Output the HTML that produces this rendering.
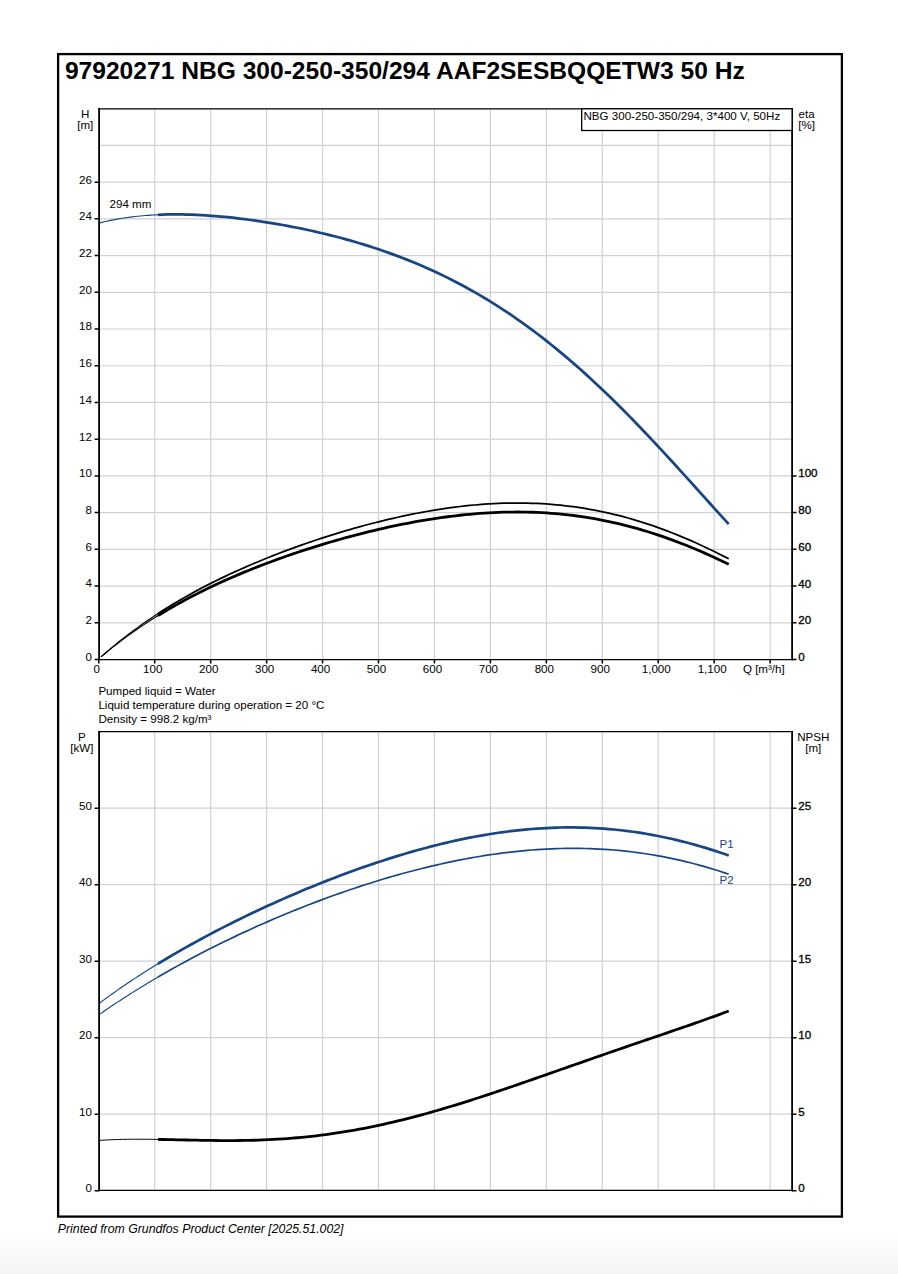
<!DOCTYPE html>
<html><head><meta charset="utf-8"><title>NBG 300-250-350/294</title>
<style>
html,body{margin:0;padding:0;background:#fff;}
body{width:898px;height:1274px;position:relative;overflow:hidden;font-family:"Liberation Sans",sans-serif;}
svg text{font-family:"Liberation Sans",sans-serif;}
</style></head><body>
<svg width="898" height="1274" viewBox="0 0 898 1274" style="position:absolute;left:0;top:0">
<defs><linearGradient id="bg" x1="0" y1="0" x2="0" y2="1"><stop offset="0" stop-color="#fff"/><stop offset="1" stop-color="#f3f3f3"/></linearGradient></defs>
<rect x="0" y="1234" width="898" height="40" fill="url(#bg)"/>
<rect x="58.1" y="54.1" width="783.8" height="1162.5" fill="none" stroke="#000" stroke-width="2.3"/>
<path d="M154.72,108.75 V659.50 M210.67,108.75 V659.50 M266.62,108.75 V659.50 M322.56,108.75 V659.50 M378.50,108.75 V659.50 M434.45,108.75 V659.50 M490.39,108.75 V659.50 M546.34,108.75 V659.50 M602.28,108.75 V659.50 M658.23,108.75 V659.50 M714.17,108.75 V659.50 M770.12,108.75 V659.50 M99.10,622.78 H792.10 M99.10,586.06 H792.10 M99.10,549.34 H792.10 M99.10,512.62 H792.10 M99.10,475.90 H792.10 M99.10,439.18 H792.10 M99.10,402.46 H792.10 M99.10,365.74 H792.10 M99.10,329.02 H792.10 M99.10,292.30 H792.10 M99.10,255.58 H792.10 M99.10,218.86 H792.10 M99.10,182.14 H792.10 M99.10,145.42 H792.10" stroke="#cfd1d3" stroke-width="1.2" fill="none"/>
<path d="M154.72,731.70 V1190.40 M210.67,731.70 V1190.40 M266.62,731.70 V1190.40 M322.56,731.70 V1190.40 M378.50,731.70 V1190.40 M434.45,731.70 V1190.40 M490.39,731.70 V1190.40 M546.34,731.70 V1190.40 M602.28,731.70 V1190.40 M658.23,731.70 V1190.40 M714.17,731.70 V1190.40 M770.12,731.70 V1190.40 M99.10,1114.20 H792.10 M99.10,1037.70 H792.10 M99.10,961.20 H792.10 M99.10,884.70 H792.10 M99.10,808.20 H792.10" stroke="#cfd1d3" stroke-width="1.2" fill="none"/>
<g clip-path="none">
<path d="M99.12,223.08 L101.70,222.43 L104.28,221.80 L106.87,221.21 L109.45,220.65 L112.04,220.11 L114.62,219.61 L117.21,219.13 L119.79,218.68 L122.38,218.25 L124.96,217.85 L127.54,217.48 L130.13,217.13 L132.71,216.81 L135.30,216.50 L137.88,216.22 L140.47,215.97 L143.05,215.73 L145.64,215.51 L148.22,215.32 L150.80,215.15 L153.39,214.99 L155.97,214.86 L158.56,214.74" stroke="#184683" stroke-width="1.15" fill="none"/>
<path d="M158.00,214.76 L162.79,214.59 L167.59,214.47 L172.39,214.41 L177.18,214.41 L181.98,214.46 L186.77,214.56 L191.57,214.71 L196.37,214.91 L201.16,215.15 L205.96,215.43 L210.75,215.76 L215.55,216.13 L220.35,216.53 L225.14,216.98 L229.94,217.46 L234.73,217.98 L239.53,218.53 L244.33,219.12 L249.12,219.74 L253.92,220.39 L258.71,221.08 L263.51,221.80 L268.31,222.55 L273.10,223.33 L277.90,224.15 L282.69,225.00 L287.49,225.88 L292.29,226.79 L297.08,227.74 L301.88,228.72 L306.67,229.73 L311.47,230.78 L316.27,231.85 L321.06,232.97 L325.86,234.12 L330.65,235.30 L335.45,236.53 L340.25,237.79 L345.04,239.09 L349.84,240.42 L354.63,241.80 L359.43,243.22 L364.23,244.68 L369.02,246.18 L373.82,247.73 L378.61,249.32 L383.41,250.95 L388.21,252.64 L393.00,254.37 L397.80,256.15 L402.59,257.98 L407.39,259.86 L412.19,261.79 L416.98,263.78 L421.78,265.82 L426.57,267.92 L431.37,270.07 L436.17,272.28 L440.96,274.55 L445.76,276.87 L450.55,279.26 L455.35,281.71 L460.15,284.22 L464.94,286.80 L469.74,289.44 L474.53,292.14 L479.33,294.91 L484.13,297.75 L488.92,300.65 L493.72,303.63 L498.51,306.67 L503.31,309.78 L508.11,312.95 L512.90,316.20 L517.70,319.52 L522.49,322.91 L527.29,326.37 L532.09,329.90 L536.88,333.50 L541.68,337.18 L546.47,340.92 L551.27,344.73 L556.07,348.62 L560.86,352.57 L565.66,356.60 L570.45,360.69 L575.25,364.86 L580.04,369.09 L584.84,373.38 L589.64,377.75 L594.43,382.18 L599.23,386.67 L604.02,391.22 L608.82,395.84 L613.62,400.51 L618.41,405.25 L623.21,410.04 L628.00,414.88 L632.80,419.78 L637.60,424.72 L642.39,429.72 L647.19,434.76 L651.98,439.84 L656.78,444.96 L661.58,450.12 L666.37,455.31 L671.17,460.54 L675.96,465.79 L680.76,471.06 L685.56,476.35 L690.35,481.66 L695.15,486.99 L699.94,492.32 L704.74,497.65 L709.54,502.98 L714.33,508.31 L719.13,513.62 L723.92,518.92 L728.72,524.20" stroke="#184683" stroke-width="2.75" fill="none"/>
<path d="M101.02,656.88 L103.52,654.67 L106.02,652.50 L108.52,650.35 L111.02,648.24 L113.53,646.15 L116.03,644.10 L118.53,642.07 L121.03,640.07 L123.53,638.10 L126.03,636.16 L128.54,634.25 L131.04,632.36 L133.54,630.50 L136.04,628.66 L138.54,626.85 L141.05,625.06 L143.55,623.30 L146.05,621.56 L148.55,619.84 L151.05,618.15 L153.55,616.48 L156.06,614.83 L158.56,613.20" stroke="#000" stroke-width="1.15" fill="none"/>
<path d="M158.00,613.56 L162.79,610.48 L167.59,607.48 L172.39,604.55 L177.18,601.69 L181.98,598.90 L186.77,596.17 L191.57,593.50 L196.37,590.89 L201.16,588.33 L205.96,585.83 L210.75,583.38 L215.55,580.99 L220.35,578.64 L225.14,576.34 L229.94,574.08 L234.73,571.87 L239.53,569.71 L244.33,567.58 L249.12,565.49 L253.92,563.44 L258.71,561.44 L263.51,559.46 L268.31,557.53 L273.10,555.62 L277.90,553.76 L282.69,551.92 L287.49,550.12 L292.29,548.35 L297.08,546.62 L301.88,544.91 L306.67,543.24 L311.47,541.60 L316.27,539.98 L321.06,538.40 L325.86,536.85 L330.65,535.33 L335.45,533.84 L340.25,532.37 L345.04,530.94 L349.84,529.54 L354.63,528.17 L359.43,526.83 L364.23,525.52 L369.02,524.24 L373.82,522.99 L378.61,521.78 L383.41,520.60 L388.21,519.45 L393.00,518.33 L397.80,517.25 L402.59,516.20 L407.39,515.18 L412.19,514.20 L416.98,513.26 L421.78,512.35 L426.57,511.49 L431.37,510.65 L436.17,509.86 L440.96,509.11 L445.76,508.40 L450.55,507.72 L455.35,507.09 L460.15,506.50 L464.94,505.96 L469.74,505.46 L474.53,505.00 L479.33,504.59 L484.13,504.22 L488.92,503.90 L493.72,503.63 L498.51,503.41 L503.31,503.23 L508.11,503.11 L512.90,503.03 L517.70,503.01 L522.49,503.04 L527.29,503.12 L532.09,503.26 L536.88,503.45 L541.68,503.69 L546.47,503.99 L551.27,504.35 L556.07,504.76 L560.86,505.23 L565.66,505.76 L570.45,506.34 L575.25,506.99 L580.04,507.69 L584.84,508.45 L589.64,509.27 L594.43,510.15 L599.23,511.10 L604.02,512.10 L608.82,513.16 L613.62,514.28 L618.41,515.47 L623.21,516.71 L628.00,518.02 L632.80,519.38 L637.60,520.81 L642.39,522.30 L647.19,523.85 L651.98,525.45 L656.78,527.12 L661.58,528.85 L666.37,530.63 L671.17,532.47 L675.96,534.38 L680.76,536.33 L685.56,538.35 L690.35,540.42 L695.15,542.54 L699.94,544.72 L704.74,546.94 L709.54,549.22 L714.33,551.55 L719.13,553.93 L723.92,556.36 L728.72,558.83" stroke="#000" stroke-width="1.75" fill="none"/>
<path d="M101.02,656.90 L103.52,654.79 L106.02,652.71 L108.52,650.66 L111.02,648.64 L113.53,646.66 L116.03,644.70 L118.53,642.76 L121.03,640.86 L123.53,638.98 L126.03,637.13 L128.54,635.31 L131.04,633.51 L133.54,631.74 L136.04,629.99 L138.54,628.26 L141.05,626.56 L143.55,624.89 L146.05,623.23 L148.55,621.60 L151.05,619.99 L153.55,618.40 L156.06,616.83 L158.56,615.28" stroke="#000" stroke-width="1.15" fill="none"/>
<path d="M158.00,615.63 L162.79,612.71 L167.59,609.86 L172.39,607.08 L177.18,604.37 L181.98,601.72 L186.77,599.13 L191.57,596.60 L196.37,594.13 L201.16,591.72 L205.96,589.36 L210.75,587.04 L215.55,584.78 L220.35,582.57 L225.14,580.40 L229.94,578.28 L234.73,576.19 L239.53,574.15 L244.33,572.15 L249.12,570.19 L253.92,568.27 L258.71,566.39 L263.51,564.53 L268.31,562.72 L273.10,560.94 L277.90,559.19 L282.69,557.47 L287.49,555.79 L292.29,554.14 L297.08,552.51 L301.88,550.92 L306.67,549.36 L311.47,547.83 L316.27,546.32 L321.06,544.85 L325.86,543.40 L330.65,541.98 L335.45,540.59 L340.25,539.23 L345.04,537.90 L349.84,536.60 L354.63,535.32 L359.43,534.08 L364.23,532.86 L369.02,531.67 L373.82,530.52 L378.61,529.39 L383.41,528.29 L388.21,527.22 L393.00,526.19 L397.80,525.18 L402.59,524.21 L407.39,523.27 L412.19,522.36 L416.98,521.49 L421.78,520.65 L426.57,519.85 L431.37,519.08 L436.17,518.34 L440.96,517.65 L445.76,516.99 L450.55,516.36 L455.35,515.78 L460.15,515.24 L464.94,514.73 L469.74,514.27 L474.53,513.85 L479.33,513.47 L484.13,513.13 L488.92,512.84 L493.72,512.59 L498.51,512.38 L503.31,512.22 L508.11,512.11 L512.90,512.04 L517.70,512.02 L522.49,512.05 L527.29,512.13 L532.09,512.26 L536.88,512.44 L541.68,512.67 L546.47,512.95 L551.27,513.28 L556.07,513.67 L560.86,514.11 L565.66,514.60 L570.45,515.15 L575.25,515.75 L580.04,516.40 L584.84,517.12 L589.64,517.88 L594.43,518.70 L599.23,519.58 L604.02,520.52 L608.82,521.51 L613.62,522.56 L618.41,523.67 L623.21,524.83 L628.00,526.05 L632.80,527.33 L637.60,528.66 L642.39,530.05 L647.19,531.50 L651.98,533.00 L656.78,534.56 L661.58,536.18 L666.37,537.85 L671.17,539.57 L675.96,541.35 L680.76,543.19 L685.56,545.07 L690.35,547.01 L695.15,549.00 L699.94,551.05 L704.74,553.14 L709.54,555.28 L714.33,557.47 L719.13,559.70 L723.92,561.98 L728.72,564.31" stroke="#000" stroke-width="2.8" fill="none"/>
<path d="M99.12,1003.44 L101.70,1001.52 L104.28,999.62 L106.87,997.74 L109.45,995.88 L112.04,994.03 L114.62,992.20 L117.21,990.38 L119.79,988.59 L122.38,986.81 L124.96,985.04 L127.54,983.29 L130.13,981.55 L132.71,979.83 L135.30,978.13 L137.88,976.44 L140.47,974.76 L143.05,973.10 L145.64,971.45 L148.22,969.82 L150.80,968.19 L153.39,966.59 L155.97,964.99 L158.56,963.41" stroke="#184683" stroke-width="1.15" fill="none"/>
<path d="M158.00,963.75 L162.79,960.84 L167.59,957.97 L172.39,955.14 L177.18,952.35 L181.98,949.60 L186.77,946.88 L191.57,944.20 L196.37,941.56 L201.16,938.95 L205.96,936.37 L210.75,933.83 L215.55,931.31 L220.35,928.83 L225.14,926.38 L229.94,923.95 L234.73,921.56 L239.53,919.20 L244.33,916.86 L249.12,914.55 L253.92,912.26 L258.71,910.01 L263.51,907.78 L268.31,905.57 L273.10,903.40 L277.90,901.24 L282.69,899.12 L287.49,897.02 L292.29,894.94 L297.08,892.89 L301.88,890.86 L306.67,888.86 L311.47,886.89 L316.27,884.94 L321.06,883.02 L325.86,881.12 L330.65,879.25 L335.45,877.40 L340.25,875.58 L345.04,873.79 L349.84,872.02 L354.63,870.28 L359.43,868.57 L364.23,866.88 L369.02,865.22 L373.82,863.60 L378.61,862.00 L383.41,860.43 L388.21,858.88 L393.00,857.37 L397.80,855.89 L402.59,854.44 L407.39,853.03 L412.19,851.64 L416.98,850.29 L421.78,848.96 L426.57,847.68 L431.37,846.42 L436.17,845.21 L440.96,844.02 L445.76,842.87 L450.55,841.76 L455.35,840.69 L460.15,839.65 L464.94,838.65 L469.74,837.69 L474.53,836.77 L479.33,835.89 L484.13,835.05 L488.92,834.25 L493.72,833.49 L498.51,832.77 L503.31,832.10 L508.11,831.47 L512.90,830.88 L517.70,830.34 L522.49,829.84 L527.29,829.39 L532.09,828.98 L536.88,828.62 L541.68,828.30 L546.47,828.04 L551.27,827.82 L556.07,827.65 L560.86,827.52 L565.66,827.45 L570.45,827.43 L575.25,827.45 L580.04,827.53 L584.84,827.65 L589.64,827.83 L594.43,828.06 L599.23,828.34 L604.02,828.67 L608.82,829.05 L613.62,829.49 L618.41,829.97 L623.21,830.51 L628.00,831.10 L632.80,831.75 L637.60,832.45 L642.39,833.19 L647.19,834.00 L651.98,834.85 L656.78,835.76 L661.58,836.72 L666.37,837.73 L671.17,838.79 L675.96,839.91 L680.76,841.07 L685.56,842.29 L690.35,843.56 L695.15,844.88 L699.94,846.24 L704.74,847.66 L709.54,849.13 L714.33,850.64 L719.13,852.21 L723.92,853.82 L728.72,855.47" stroke="#184683" stroke-width="2.7" fill="none"/>
<path d="M99.12,1014.66 L101.70,1012.86 L104.28,1011.07 L106.87,1009.30 L109.45,1007.55 L112.04,1005.81 L114.62,1004.08 L117.21,1002.37 L119.79,1000.67 L122.38,998.99 L124.96,997.32 L127.54,995.66 L130.13,994.01 L132.71,992.38 L135.30,990.76 L137.88,989.15 L140.47,987.55 L143.05,985.97 L145.64,984.40 L148.22,982.84 L150.80,981.29 L153.39,979.76 L155.97,978.23 L158.56,976.72" stroke="#184683" stroke-width="1.15" fill="none"/>
<path d="M158.00,977.04 L162.79,974.26 L167.59,971.51 L172.39,968.80 L177.18,966.13 L181.98,963.49 L186.77,960.89 L191.57,958.32 L196.37,955.78 L201.16,953.28 L205.96,950.80 L210.75,948.36 L215.55,945.95 L220.35,943.58 L225.14,941.23 L229.94,938.91 L234.73,936.62 L239.53,934.35 L244.33,932.12 L249.12,929.92 L253.92,927.74 L258.71,925.59 L263.51,923.47 L268.31,921.37 L273.10,919.30 L277.90,917.26 L282.69,915.25 L287.49,913.26 L292.29,911.30 L297.08,909.36 L301.88,907.45 L306.67,905.57 L311.47,903.71 L316.27,901.88 L321.06,900.08 L325.86,898.30 L330.65,896.55 L335.45,894.82 L340.25,893.12 L345.04,891.45 L349.84,889.81 L354.63,888.19 L359.43,886.60 L364.23,885.04 L369.02,883.50 L373.82,881.99 L378.61,880.51 L383.41,879.06 L388.21,877.64 L393.00,876.24 L397.80,874.88 L402.59,873.54 L407.39,872.24 L412.19,870.96 L416.98,869.72 L421.78,868.50 L426.57,867.32 L431.37,866.17 L436.17,865.05 L440.96,863.96 L445.76,862.90 L450.55,861.88 L455.35,860.89 L460.15,859.94 L464.94,859.02 L469.74,858.13 L474.53,857.28 L479.33,856.47 L484.13,855.69 L488.92,854.95 L493.72,854.24 L498.51,853.58 L503.31,852.95 L508.11,852.36 L512.90,851.80 L517.70,851.29 L522.49,850.82 L527.29,850.38 L532.09,849.99 L536.88,849.64 L541.68,849.33 L546.47,849.07 L551.27,848.84 L556.07,848.66 L560.86,848.52 L565.66,848.43 L570.45,848.38 L575.25,848.37 L580.04,848.41 L584.84,848.50 L589.64,848.63 L594.43,848.81 L599.23,849.04 L604.02,849.31 L608.82,849.64 L613.62,850.01 L618.41,850.42 L623.21,850.89 L628.00,851.41 L632.80,851.98 L637.60,852.59 L642.39,853.26 L647.19,853.98 L651.98,854.75 L656.78,855.57 L661.58,856.44 L666.37,857.37 L671.17,858.34 L675.96,859.37 L680.76,860.45 L685.56,861.59 L690.35,862.78 L695.15,864.02 L699.94,865.32 L704.74,866.67 L709.54,868.07 L714.33,869.53 L719.13,871.04 L723.92,872.60 L728.72,874.22" stroke="#184683" stroke-width="1.7" fill="none"/>
<path d="M99.12,1140.43 L101.70,1140.26 L104.28,1140.10 L106.87,1139.95 L109.45,1139.83 L112.04,1139.71 L114.62,1139.61 L117.21,1139.53 L119.79,1139.45 L122.38,1139.39 L124.96,1139.34 L127.54,1139.29 L130.13,1139.26 L132.71,1139.24 L135.30,1139.23 L137.88,1139.22 L140.47,1139.23 L143.05,1139.24 L145.64,1139.25 L148.22,1139.27 L150.80,1139.30 L153.39,1139.34 L155.97,1139.37 L158.56,1139.42" stroke="#000" stroke-width="1.0" fill="none"/>
<path d="M158.00,1139.41 L162.79,1139.49 L167.59,1139.59 L172.39,1139.69 L177.18,1139.80 L181.98,1139.91 L186.77,1140.02 L191.57,1140.12 L196.37,1140.22 L201.16,1140.31 L205.96,1140.39 L210.75,1140.46 L215.55,1140.52 L220.35,1140.56 L225.14,1140.58 L229.94,1140.58 L234.73,1140.55 L239.53,1140.51 L244.33,1140.44 L249.12,1140.35 L253.92,1140.23 L258.71,1140.08 L263.51,1139.90 L268.31,1139.69 L273.10,1139.45 L277.90,1139.18 L282.69,1138.88 L287.49,1138.54 L292.29,1138.17 L297.08,1137.76 L301.88,1137.32 L306.67,1136.84 L311.47,1136.33 L316.27,1135.78 L321.06,1135.20 L325.86,1134.57 L330.65,1133.92 L335.45,1133.22 L340.25,1132.49 L345.04,1131.72 L349.84,1130.92 L354.63,1130.08 L359.43,1129.20 L364.23,1128.29 L369.02,1127.35 L373.82,1126.37 L378.61,1125.35 L383.41,1124.31 L388.21,1123.23 L393.00,1122.11 L397.80,1120.97 L402.59,1119.79 L407.39,1118.59 L412.19,1117.35 L416.98,1116.09 L421.78,1114.80 L426.57,1113.48 L431.37,1112.14 L436.17,1110.77 L440.96,1109.37 L445.76,1107.96 L450.55,1106.52 L455.35,1105.06 L460.15,1103.58 L464.94,1102.08 L469.74,1100.56 L474.53,1099.02 L479.33,1097.47 L484.13,1095.90 L488.92,1094.32 L493.72,1092.73 L498.51,1091.12 L503.31,1089.50 L508.11,1087.87 L512.90,1086.24 L517.70,1084.59 L522.49,1082.94 L527.29,1081.28 L532.09,1079.61 L536.88,1077.94 L541.68,1076.27 L546.47,1074.59 L551.27,1072.91 L556.07,1071.23 L560.86,1069.55 L565.66,1067.86 L570.45,1066.18 L575.25,1064.50 L580.04,1062.82 L584.84,1061.15 L589.64,1059.47 L594.43,1057.80 L599.23,1056.13 L604.02,1054.47 L608.82,1052.80 L613.62,1051.15 L618.41,1049.49 L623.21,1047.84 L628.00,1046.19 L632.80,1044.54 L637.60,1042.90 L642.39,1041.26 L647.19,1039.62 L651.98,1037.98 L656.78,1036.35 L661.58,1034.71 L666.37,1033.07 L671.17,1031.43 L675.96,1029.78 L680.76,1028.13 L685.56,1026.48 L690.35,1024.81 L695.15,1023.14 L699.94,1021.45 L704.74,1019.76 L709.54,1018.05 L714.33,1016.32 L719.13,1014.57 L723.92,1012.80 L728.72,1011.00" stroke="#000" stroke-width="2.8" fill="none"/>
</g>
<path d="M99.10,107.95 V660.30 M792.10,107.95 V660.30" stroke="#000" stroke-width="1.8" fill="none"/>
<path d="M98.20,108.75 H793.00 M98.20,659.50 H793.00" stroke="#000" stroke-width="1.25" fill="none"/>
<path d="M94.60,659.50 H99.10 M94.60,622.78 H99.10 M94.60,586.06 H99.10 M94.60,549.34 H99.10 M94.60,512.62 H99.10 M94.60,475.90 H99.10 M94.60,439.18 H99.10 M94.60,402.46 H99.10 M94.60,365.74 H99.10 M94.60,329.02 H99.10 M94.60,292.30 H99.10 M94.60,255.58 H99.10 M94.60,218.86 H99.10 M94.60,182.14 H99.10 M792.10,659.50 H796.50 M792.10,622.78 H796.50 M792.10,586.06 H796.50 M792.10,549.34 H796.50 M792.10,512.62 H796.50 M792.10,475.90 H796.50 M98.78,659.50 V663.50 M154.72,659.50 V663.50 M210.67,659.50 V663.50 M266.62,659.50 V663.50 M322.56,659.50 V663.50 M378.50,659.50 V663.50 M434.45,659.50 V663.50 M490.39,659.50 V663.50 M546.34,659.50 V663.50 M602.28,659.50 V663.50 M658.23,659.50 V663.50 M714.17,659.50 V663.50 M770.12,659.50 V663.50" stroke="#000" stroke-width="1.5" fill="none"/>
<path d="M99.10,730.90 V1191.20 M792.10,730.90 V1191.20" stroke="#000" stroke-width="1.8" fill="none"/>
<path d="M98.20,731.70 H793.00 M98.20,1190.40 H793.00" stroke="#000" stroke-width="1.25" fill="none"/>
<path d="M94.60,1190.70 H99.10 M792.10,1190.70 H796.50 M94.60,1114.20 H99.10 M792.10,1114.20 H796.50 M94.60,1037.70 H99.10 M792.10,1037.70 H796.50 M94.60,961.20 H99.10 M792.10,961.20 H796.50 M94.60,884.70 H99.10 M792.10,884.70 H796.50 M94.60,808.20 H99.10 M792.10,808.20 H796.50" stroke="#000" stroke-width="1.5" fill="none"/>
<rect x="581.7" y="108.8" width="210.4" height="21.7" fill="#fff" stroke="#000" stroke-width="1.3"/>
<g font-family="Liberation Sans, sans-serif">
<text x="64.90" y="79.10" font-size="24.6" text-anchor="start" fill="#000" font-weight="bold">97920271 NBG 300-250-350/294 AAF2SESBQQETW3 50 Hz</text>
<text x="583.40" y="119.70" font-size="11.6" text-anchor="start" fill="#000" >NBG 300-250-350/294, 3*400 V, 50Hz</text>
<text x="85.30" y="118.10" font-size="11.6" text-anchor="middle" fill="#000" >H</text>
<text x="85.30" y="129.40" font-size="11.6" text-anchor="middle" fill="#000" >[m]</text>
<text x="806.60" y="117.60" font-size="11.6" text-anchor="middle" fill="#000" >eta</text>
<text x="806.60" y="128.90" font-size="11.6" text-anchor="middle" fill="#000" >[%]</text>
<text x="92.00" y="660.90" font-size="11.6" text-anchor="end" fill="#000" >0</text>
<text x="92.00" y="624.18" font-size="11.6" text-anchor="end" fill="#000" >2</text>
<text x="92.00" y="587.46" font-size="11.6" text-anchor="end" fill="#000" >4</text>
<text x="92.00" y="550.74" font-size="11.6" text-anchor="end" fill="#000" >6</text>
<text x="92.00" y="514.02" font-size="11.6" text-anchor="end" fill="#000" >8</text>
<text x="92.00" y="477.30" font-size="11.6" text-anchor="end" fill="#000" >10</text>
<text x="92.00" y="440.58" font-size="11.6" text-anchor="end" fill="#000" >12</text>
<text x="92.00" y="403.86" font-size="11.6" text-anchor="end" fill="#000" >14</text>
<text x="92.00" y="367.14" font-size="11.6" text-anchor="end" fill="#000" >16</text>
<text x="92.00" y="330.42" font-size="11.6" text-anchor="end" fill="#000" >18</text>
<text x="92.00" y="293.70" font-size="11.6" text-anchor="end" fill="#000" >20</text>
<text x="92.00" y="256.98" font-size="11.6" text-anchor="end" fill="#000" >22</text>
<text x="92.00" y="220.26" font-size="11.6" text-anchor="end" fill="#000" >24</text>
<text x="92.00" y="183.54" font-size="11.6" text-anchor="end" fill="#000" >26</text>
<text x="798.20" y="661.00" font-size="11.6" text-anchor="start" fill="#000" stroke="#000" stroke-width="0.3">0</text>
<text x="798.20" y="624.28" font-size="11.6" text-anchor="start" fill="#000" stroke="#000" stroke-width="0.3">20</text>
<text x="798.20" y="587.56" font-size="11.6" text-anchor="start" fill="#000" stroke="#000" stroke-width="0.3">40</text>
<text x="798.20" y="550.84" font-size="11.6" text-anchor="start" fill="#000" stroke="#000" stroke-width="0.3">60</text>
<text x="798.20" y="514.12" font-size="11.6" text-anchor="start" fill="#000" stroke="#000" stroke-width="0.3">80</text>
<text x="798.20" y="477.40" font-size="11.6" text-anchor="start" fill="#000" stroke="#000" stroke-width="0.3">100</text>
<text x="96.78" y="673.40" font-size="11.6" text-anchor="middle" fill="#000" >0</text>
<text x="152.72" y="673.40" font-size="11.6" text-anchor="middle" fill="#000" >100</text>
<text x="208.67" y="673.40" font-size="11.6" text-anchor="middle" fill="#000" >200</text>
<text x="264.62" y="673.40" font-size="11.6" text-anchor="middle" fill="#000" >300</text>
<text x="320.56" y="673.40" font-size="11.6" text-anchor="middle" fill="#000" >400</text>
<text x="376.50" y="673.40" font-size="11.6" text-anchor="middle" fill="#000" >500</text>
<text x="432.45" y="673.40" font-size="11.6" text-anchor="middle" fill="#000" >600</text>
<text x="488.39" y="673.40" font-size="11.6" text-anchor="middle" fill="#000" >700</text>
<text x="544.34" y="673.40" font-size="11.6" text-anchor="middle" fill="#000" >800</text>
<text x="600.28" y="673.40" font-size="11.6" text-anchor="middle" fill="#000" >900</text>
<text x="656.23" y="673.40" font-size="11.6" text-anchor="middle" fill="#000" >1,000</text>
<text x="712.17" y="673.40" font-size="11.6" text-anchor="middle" fill="#000" >1,100</text>
<text x="742.90" y="673.40" font-size="11.6" text-anchor="start" fill="#000" >Q [m³/h]</text>
<text x="109.50" y="208.20" font-size="11.6" text-anchor="start" fill="#000" >294 mm</text>
<text x="98.40" y="695.00" font-size="11.6" text-anchor="start" fill="#000" >Pumped liquid = Water</text>
<text x="98.40" y="709.00" font-size="11.6" text-anchor="start" fill="#000" >Liquid temperature during operation = 20 °C</text>
<text x="98.40" y="723.00" font-size="11.6" text-anchor="start" fill="#000" >Density = 998.2 kg/m³</text>
<text x="81.80" y="740.70" font-size="11.6" text-anchor="middle" fill="#000" >P</text>
<text x="81.80" y="751.90" font-size="11.6" text-anchor="middle" fill="#000" >[kW]</text>
<text x="813.30" y="740.70" font-size="11.6" text-anchor="middle" fill="#000" >NPSH</text>
<text x="813.30" y="751.90" font-size="11.6" text-anchor="middle" fill="#000" >[m]</text>
<text x="92.00" y="1192.00" font-size="11.6" text-anchor="end" fill="#000" >0</text>
<text x="798.20" y="1192.00" font-size="11.6" text-anchor="start" fill="#000" stroke="#000" stroke-width="0.3">0</text>
<text x="92.00" y="1115.50" font-size="11.6" text-anchor="end" fill="#000" >10</text>
<text x="798.20" y="1115.50" font-size="11.6" text-anchor="start" fill="#000" stroke="#000" stroke-width="0.3">5</text>
<text x="92.00" y="1039.00" font-size="11.6" text-anchor="end" fill="#000" >20</text>
<text x="798.20" y="1039.00" font-size="11.6" text-anchor="start" fill="#000" stroke="#000" stroke-width="0.3">10</text>
<text x="92.00" y="962.50" font-size="11.6" text-anchor="end" fill="#000" >30</text>
<text x="798.20" y="962.50" font-size="11.6" text-anchor="start" fill="#000" stroke="#000" stroke-width="0.3">15</text>
<text x="92.00" y="886.00" font-size="11.6" text-anchor="end" fill="#000" >40</text>
<text x="798.20" y="886.00" font-size="11.6" text-anchor="start" fill="#000" stroke="#000" stroke-width="0.3">20</text>
<text x="92.00" y="809.50" font-size="11.6" text-anchor="end" fill="#000" >50</text>
<text x="798.20" y="809.50" font-size="11.6" text-anchor="start" fill="#000" stroke="#000" stroke-width="0.3">25</text>
<text x="719.60" y="847.90" font-size="11.6" text-anchor="start" fill="#184683" >P1</text>
<text x="719.60" y="883.50" font-size="11.6" text-anchor="start" fill="#184683" >P2</text>
<text x="57.80" y="1233.00" font-size="12.3" text-anchor="start" fill="#000" font-style="italic">Printed from Grundfos Product Center [2025.51.002]</text>
</g>
</svg>
</body></html>
